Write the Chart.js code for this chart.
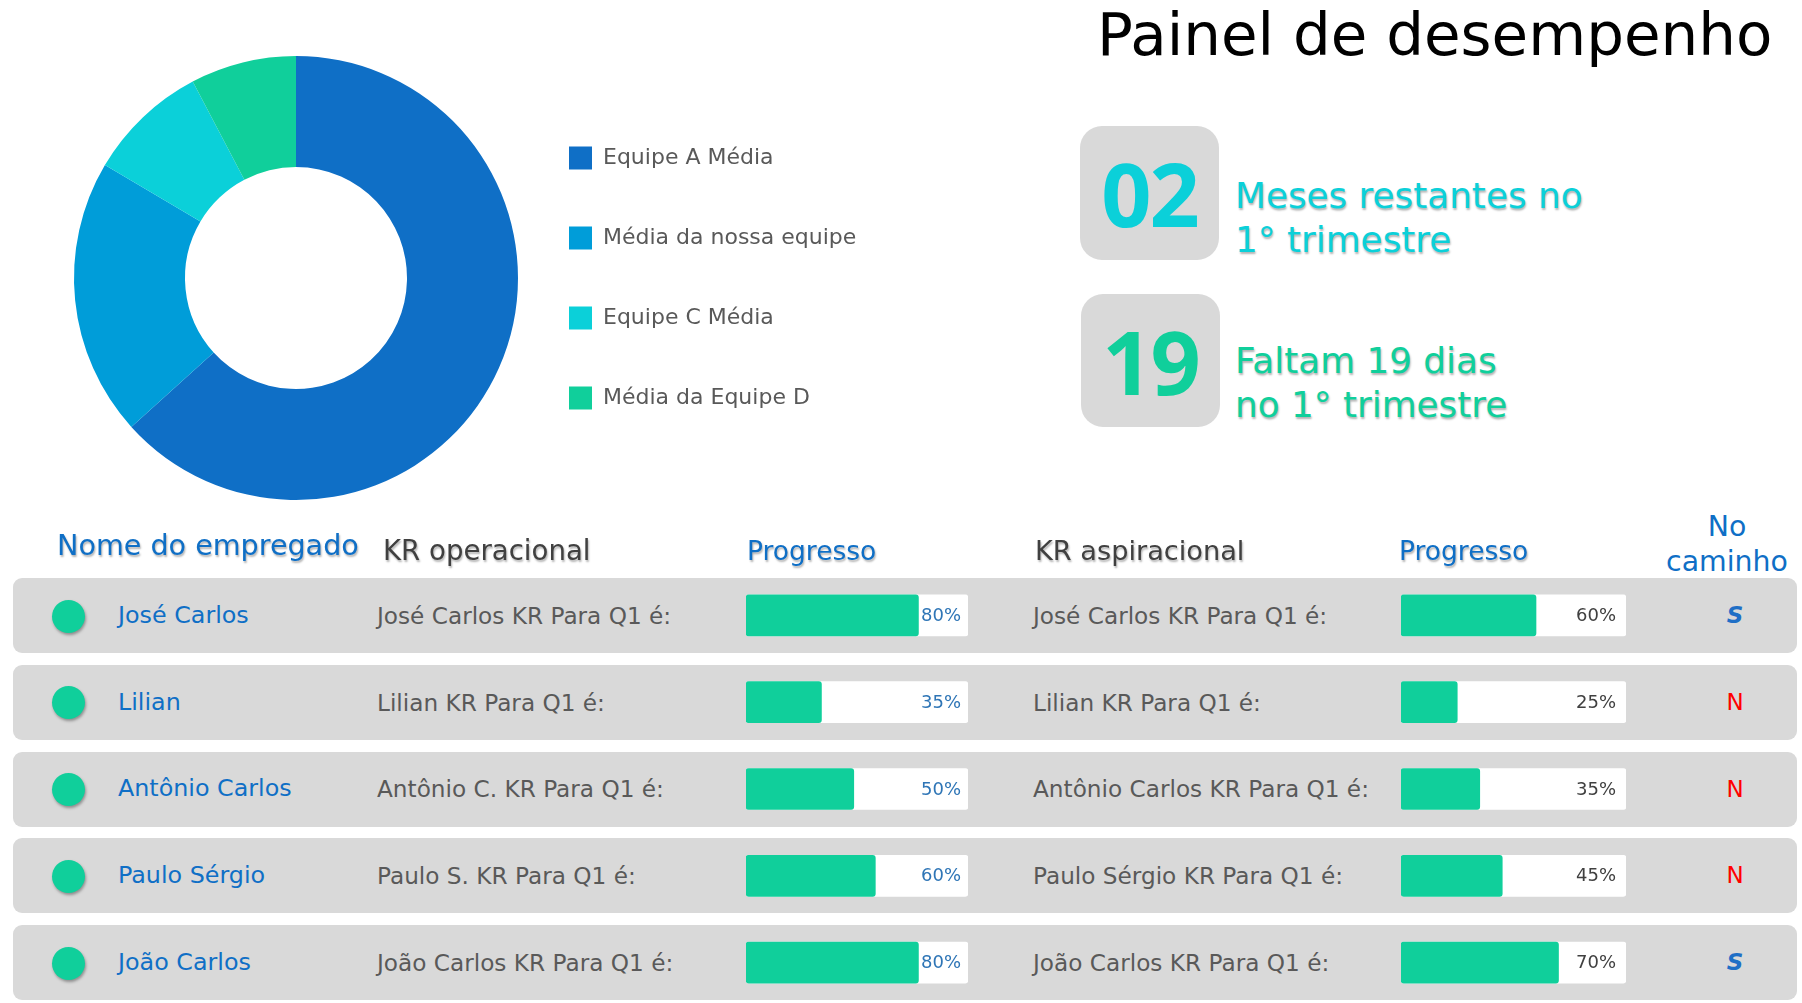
<!DOCTYPE html>
<html><head><meta charset="utf-8">
<script src="https://cdn.jsdelivr.net/npm/chart.js@4.4.1/dist/chart.umd.min.js"></script>
<style>
html,body{margin:0;padding:0;background:#fff;}
body{width:1802px;height:1003px;overflow:hidden;position:relative;font-family:"DejaVu Sans",sans-serif;}
.t{position:absolute;white-space:nowrap;line-height:1;}
.kbox{position:absolute;background:#D9D9D9;border-radius:22px;display:flex;align-items:center;justify-content:center;font-family:"Noto Sans",sans-serif;font-weight:700;font-size:88px;line-height:1;letter-spacing:-2px;}
.band{position:absolute;left:13px;width:1784px;height:75px;background:#D9D9D9;border-radius:9px;}
.dot{position:absolute;width:33px;height:33px;border-radius:50%;background:#10CF9B;box-shadow:1px 2px 3px rgba(0,0,0,.35);}
canvas{position:absolute;}
</style></head><body>
<canvas id="donut" width="900" height="556" style="left:0;top:0"></canvas>
<canvas id="prog1" width="222" height="434" style="left:746px;top:572px;z-index:2"></canvas>
<canvas id="prog2" width="225" height="434" style="left:1401px;top:572px;z-index:2"></canvas>
<script>
// ---- data ----
const titleText = 'Painel de desempenho';
const donutLabels = ['Equipe A Média', 'Média da nossa equipe', 'Equipe C Média', 'Média da Equipe D'];
const donutValues = [63.3, 20.2, 8.8, 7.7];
const donutColors = ['#0F6FC6', '#009DD9', '#0BD0D9', '#10CF9B'];

const kpiNumbers = ['02', '19'];
const kpiLines = [['Meses restantes no', '1° trimestre'], ['Faltam 19 dias', 'no 1° trimestre']];
const kpiColors = ['#0BD0D9', '#10CF9B'];

const headers = ['Nome do empregado', 'KR operacional', 'Progresso', 'KR aspiracional', 'Progresso'];
const statusHeader = ['No', 'caminho'];

const names = ['José Carlos', 'Lilian', 'Antônio Carlos', 'Paulo Sérgio', 'João Carlos'];
const krOperacional = ['José Carlos KR Para Q1 é:', 'Lilian KR Para Q1 é:', 'Antônio C. KR Para Q1 é:', 'Paulo S. KR Para Q1 é:', 'João Carlos KR Para Q1 é:'];
const progressoOperacional = [80, 35, 50, 60, 80];
const krAspiracional = ['José Carlos KR Para Q1 é:', 'Lilian KR Para Q1 é:', 'Antônio Carlos KR Para Q1 é:', 'Paulo Sérgio KR Para Q1 é:', 'João Carlos KR Para Q1 é:'];
const progressoAspiracional = [60, 25, 35, 45, 70];
const noCaminho = ['S', 'N', 'N', 'N', 'S'];
// data-bar scale maximum of each progress column
const scaleMaxOperacional = 103;
const scaleMaxAspiracional = 100;

// ---- helpers ----
const BASE = 0.846; // DejaVu Sans baseline offset for line-height:1
function txt(str, x, baseline, size, color, extra) {
  const d = document.createElement('div');
  d.className = 't';
  d.textContent = str;
  d.style.left = x + 'px';
  d.style.top = (baseline - BASE * size) + 'px';
  d.style.fontSize = size + 'px';
  d.style.color = color;
  if (extra) Object.assign(d.style, extra);
  document.body.appendChild(d);
  return d;
}
const SH = '1px 2px 2px rgba(0,0,0,0.30)';

// title
txt(titleText, 1097, 55, 59.5, '#000');

// KPI boxes
const kpiBoxes = [[1080, 126, 139, 134], [1081, 294, 139, 133]];
const kpiBaselines = [[208, 252], [373, 417]];
kpiNumbers.forEach((n, i) => {
  const b = document.createElement('div');
  b.className = 'kbox';
  const [l, t, w, h] = kpiBoxes[i];
  Object.assign(b.style, {left: l + 'px', top: t + 'px', width: w + 'px', height: h + 'px', color: kpiColors[i]});
  b.textContent = n;
  document.body.appendChild(b);
  kpiLines[i].forEach((line, j) => txt(line, 1235, kpiBaselines[i][j], 35.8, kpiColors[i], {textShadow: SH}));
});

// table headers
txt(headers[0], 57, 555, 28.6, '#0F6FC6', {textShadow: SH});
txt(headers[1], 383, 560, 27.6, '#404040', {textShadow: SH});
txt(headers[2], 747, 560, 26.5, '#0F6FC6', {textShadow: SH});
txt(headers[3], 1035, 560, 27.2, '#404040', {textShadow: SH});
txt(headers[4], 1399, 560, 26.5, '#0F6FC6', {textShadow: SH});
statusHeader.forEach((s, j) => {
  const d = txt(s, 1627, 537 + j * 35, 28.4, '#0F6FC6');
  d.style.width = '200px'; d.style.textAlign = 'center';
});

// rows
const rowStep = 86.8, firstCenter = 615.5;
names.forEach((nm, i) => {
  const cy = firstCenter + i * rowStep;
  const band = document.createElement('div');
  band.className = 'band';
  band.style.top = (cy - 37.5) + 'px';
  document.body.appendChild(band);
  const dot = document.createElement('div');
  dot.className = 'dot';
  dot.style.left = (68 - 16.5) + 'px';
  dot.style.top = (cy - 16) + 'px';
  document.body.appendChild(dot);
  txt(nm, 118, cy + 8.5, 23.8, '#0F6FC6');
  txt(krOperacional[i], 377, cy + 8, 23.2, '#595959');
  txt(krAspiracional[i], 1033, cy + 8, 23.2, '#595959');
  const st = noCaminho[i];
  const d = txt(st, 1685, cy + 8, 23, st === 'S' ? '#1F6FC6' : '#FF0000',
    st === 'S' ? {fontWeight: 'bold', fontStyle: 'italic'} : {});
  d.style.width = '100px'; d.style.textAlign = 'center';
});

// ---- donut chart ----
const fixLegendWidth = w => ({
  id: 'fixLegendWidth',
  beforeLayout(chart) {
    const lg = chart.legend;
    if (lg && !lg._fixed) {
      const f = lg.fit;
      lg.fit = function () { f.call(this); this.width = w; };
      lg._fixed = true;
    }
  }
});
new Chart(document.getElementById('donut'), {
  type: 'doughnut',
  data: {labels: donutLabels, datasets: [{data: donutValues, backgroundColor: donutColors, borderWidth: 0, hoverOffset: 0}]},
  options: {
    responsive: false, animation: false, events: [],
    cutout: '50%', radius: 222,
    layout: {padding: {left: 80, top: 56, bottom: 56, right: 0}},
    plugins: {
      legend: {position: 'right', align: 'center',
        labels: {boxWidth: 23, boxHeight: 23, padding: 57, color: '#595959', font: {family: 'DejaVu Sans', size: 22}}},
      tooltip: {enabled: false}
    }
  },
  plugins: [fixLegendWidth(388)]
});

// ---- progress bars ----
function pctLabels(values, color, max, inset) {
  return {
    id: 'pctLabels',
    afterDatasetsDraw(chart) {
      const ctx = chart.ctx, xs = chart.scales.x;
      const meta = chart.getDatasetMeta(0);
      ctx.save();
      ctx.font = '18px "DejaVu Sans"';
      ctx.fillStyle = color;
      ctx.textAlign = 'right';
      ctx.textBaseline = 'middle';
      meta.data.forEach((bar, i) => ctx.fillText(values[i] + '%', xs.getPixelForValue(max) - inset, bar.y + 1));
      ctx.restore();
    }
  };
}
function progressChart(id, values, labelColor, max, inset) {
  new Chart(document.getElementById(id), {
    type: 'bar',
    data: {labels: names, datasets: [
      {data: values, backgroundColor: '#10CF9B', borderRadius: 3, borderSkipped: false, barThickness: 41, grouped: false, order: 0},
      {data: names.map(() => max), backgroundColor: '#FFFFFF', borderRadius: 3, borderSkipped: false, barThickness: 41, grouped: false, order: 1}
    ]},
    options: {
      indexAxis: 'y', responsive: false, animation: false, events: [],
      layout: {padding: 0},
      scales: {x: {display: false, min: 0, max: max}, y: {display: false}},
      plugins: {legend: {display: false}, tooltip: {enabled: false}}
    },
    plugins: [pctLabels(values, labelColor, max, inset)]
  });
}
progressChart('prog1', progressoOperacional, '#2E75B6', scaleMaxOperacional, 7);
progressChart('prog2', progressoAspiracional, '#404040', scaleMaxAspiracional, 10);
</script>
</body></html>
